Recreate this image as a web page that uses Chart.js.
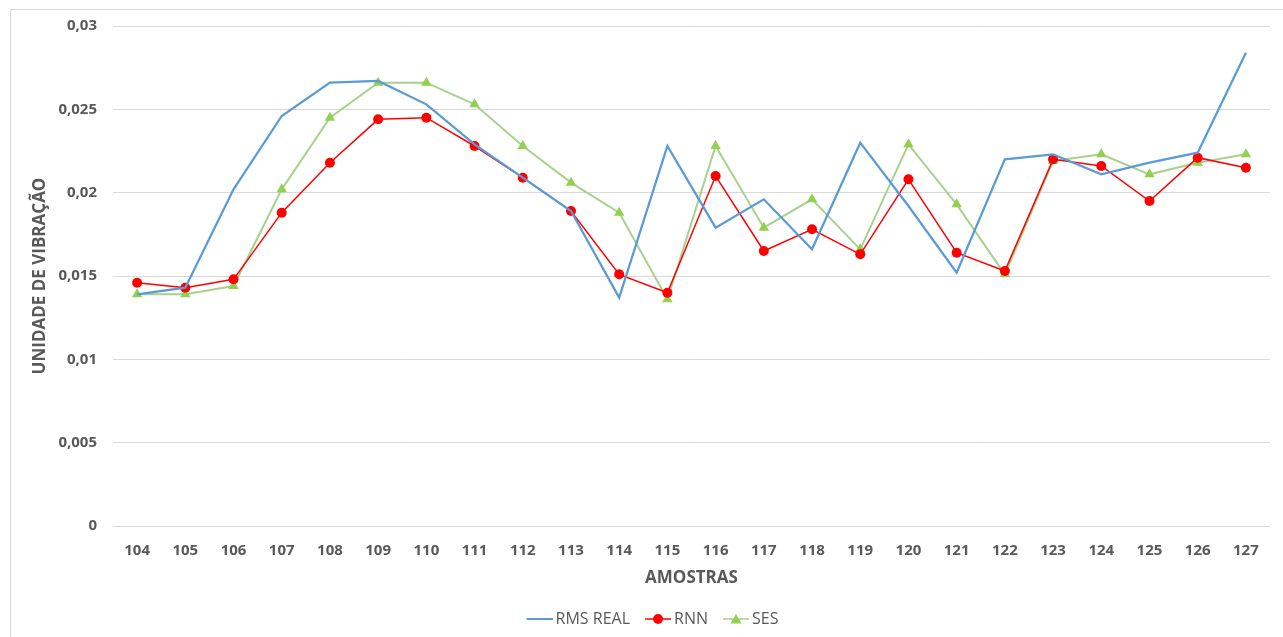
<!DOCTYPE html>
<html>
  <head>
    <meta charset="utf-8">
    <title>RMS REAL x RNN x SES</title>
    <script src="https://cdn.jsdelivr.net/npm/chart.js"></script>
    <style>
      body { margin: 0; background: #fff; }
      #wrap { position: relative; width: 1283px; height: 637px; overflow: hidden; }
      #frame { position: absolute; left: 10px; top: 9px; width: 1300px; height: 660px; border: 1px solid #d9d9d9; box-sizing: border-box; }
      #chart { position: absolute; left: 0; top: 0; }
    </style>
  </head>
  <body>
    <div id="wrap">
      <div id="frame"></div>
      <canvas id="chart" width="1283" height="637"></canvas>
    </div>
    <script>
      // dados
      const amostras = ['104', '105', '106', '107', '108', '109', '110', '111', '112', '113', '114', '115',
                        '116', '117', '118', '119', '120', '121', '122', '123', '124', '125', '126', '127'];
      const rmsReal = [0.0139, 0.0143, 0.0202, 0.0246, 0.0266, 0.0267, 0.0253, 0.0229, 0.0209, 0.0189, 0.0137, 0.0228,
                       0.0179, 0.0196, 0.0166, 0.0230, 0.0192, 0.0152, 0.0220, 0.0223, 0.0211, 0.0218, 0.0224, 0.0284];
      const rnn = [0.0146, 0.0143, 0.0148, 0.0188, 0.0218, 0.0244, 0.0245, 0.0228, 0.0209, 0.0189, 0.0151, 0.0140,
                   0.0210, 0.0165, 0.0178, 0.0163, 0.0208, 0.0164, 0.0153, 0.0220, 0.0216, 0.0195, 0.0221, 0.0215];
      const ses = [0.0139, 0.0139, 0.0144, 0.0202, 0.0245, 0.0266, 0.0266, 0.0253, 0.0228, 0.0206, 0.0188, 0.0136,
                   0.0228, 0.0179, 0.0196, 0.0166, 0.0229, 0.0193, 0.0151, 0.0219, 0.0223, 0.0211, 0.0218, 0.0223];
      const yTickLabels = ['0', '0,005', '0,01', '0,015', '0,02', '0,025', '0,03'];

      const cinza = '#595959';
      const azul = '#5b9bd5';
      const vermelho = '#ff0000';
      const verdeLinha = '#a9d18e';
      const verde = '#92d050';

      // ícones da legenda: linha com marcador, encostada à direita do canvas
      function legendIcon(lineColor, lineWidth, marker, markerColor) {
        const c = document.createElement('canvas');
        c.width = 36;
        c.height = 12;
        const ctx = c.getContext('2d');
        ctx.strokeStyle = lineColor;
        ctx.lineWidth = lineWidth;
        ctx.beginPath();
        ctx.moveTo(10, 6);
        ctx.lineTo(36, 6);
        ctx.stroke();
        ctx.fillStyle = markerColor;
        if (marker == 'circle') {
          ctx.beginPath();
          ctx.arc(23, 6, 5, 0, Math.PI * 2);
          ctx.fill();
        } else if (marker == 'triangle') {
          ctx.beginPath();
          ctx.moveTo(23, 1);
          ctx.lineTo(28.5, 10.5);
          ctx.lineTo(17.5, 10.5);
          ctx.closePath();
          ctx.fill();
        }
        return c;
      }
      const icons = [
        legendIcon(azul, 2, null, null),
        legendIcon(vermelho, 1.5, 'circle', vermelho),
        legendIcon(verdeLinha, 1.5, 'triangle', verde)
      ];

      const ctx = document.getElementById('chart');
      new Chart(ctx, {
        type: 'line',
        data: {
          labels: amostras,
          datasets: [{
            label: 'RMS REAL',
            data: rmsReal,
            borderColor: azul,
            backgroundColor: azul,
            borderWidth: 2.25,
            pointRadius: 0,
            tension: 0
          }, {
            label: 'RNN',
            data: rnn,
            borderColor: vermelho,
            backgroundColor: vermelho,
            borderWidth: 1.5,
            pointStyle: 'circle',
            pointRadius: 5,
            pointBorderWidth: 0,
            tension: 0
          }, {
            label: 'SES',
            data: ses,
            borderColor: verdeLinha,
            backgroundColor: verde,
            pointBorderColor: verde,
            borderWidth: 2,
            pointStyle: 'triangle',
            pointRadius: 6,
            pointBorderWidth: 0,
            tension: 0
          }]
        },
        options: {
          responsive: false,
          animation: false,
          layout: { padding: { left: 30, right: 13, top: 26, bottom: 0 } },
          plugins: {
            tooltip: { enabled: false },
            legend: {
              position: 'bottom',
              labels: {
                color: cinza,
                font: { family: 'Open Sans', size: 16 },
                usePointStyle: true,
                pointStyleWidth: 26,
                boxHeight: 12,
                padding: 10,
                generateLabels: function(chart) {
                  const items = Chart.defaults.plugins.legend.labels.generateLabels(chart);
                  items.forEach(function(it, i) { it.pointStyle = icons[i]; });
                  return items;
                }
              }
            }
          },
          scales: {
            x: {
              offset: true,
              grid: { display: false, drawTicks: false },
              border: { display: false },
              ticks: { color: cinza, font: { family: 'Open Sans', size: 15, weight: 'bold' }, padding: 16, maxRotation: 0 },
              title: {
                display: true,
                text: 'AMOSTRAS',
                color: cinza,
                font: { family: 'Open Sans', size: 17, weight: 'bold' },
                padding: { top: 0, bottom: 13 }
              },
              afterFit: function(scale) { scale.height = 75; }
            },
            y: {
              min: 0,
              max: 0.03,
              ticks: {
                stepSize: 0.005,
                color: cinza,
                font: { family: 'Open Sans', size: 15, weight: 'bold' },
                padding: 16,
                callback: function(value, index) { return yTickLabels[index]; }
              },
              grid: { color: '#d9d9d9', lineWidth: 1, drawTicks: false },
              border: { display: false },
              title: {
                display: true,
                text: 'UNIDADE DE VIBRAÇÃO',
                color: cinza,
                font: { family: 'Open Sans', size: 17, weight: 'bold' },
                padding: { top: 0, bottom: 0 }
              },
              afterFit: function(scale) { scale.width = 83; }
            }
          }
        }
      });
    </script>
  </body>
</html>
